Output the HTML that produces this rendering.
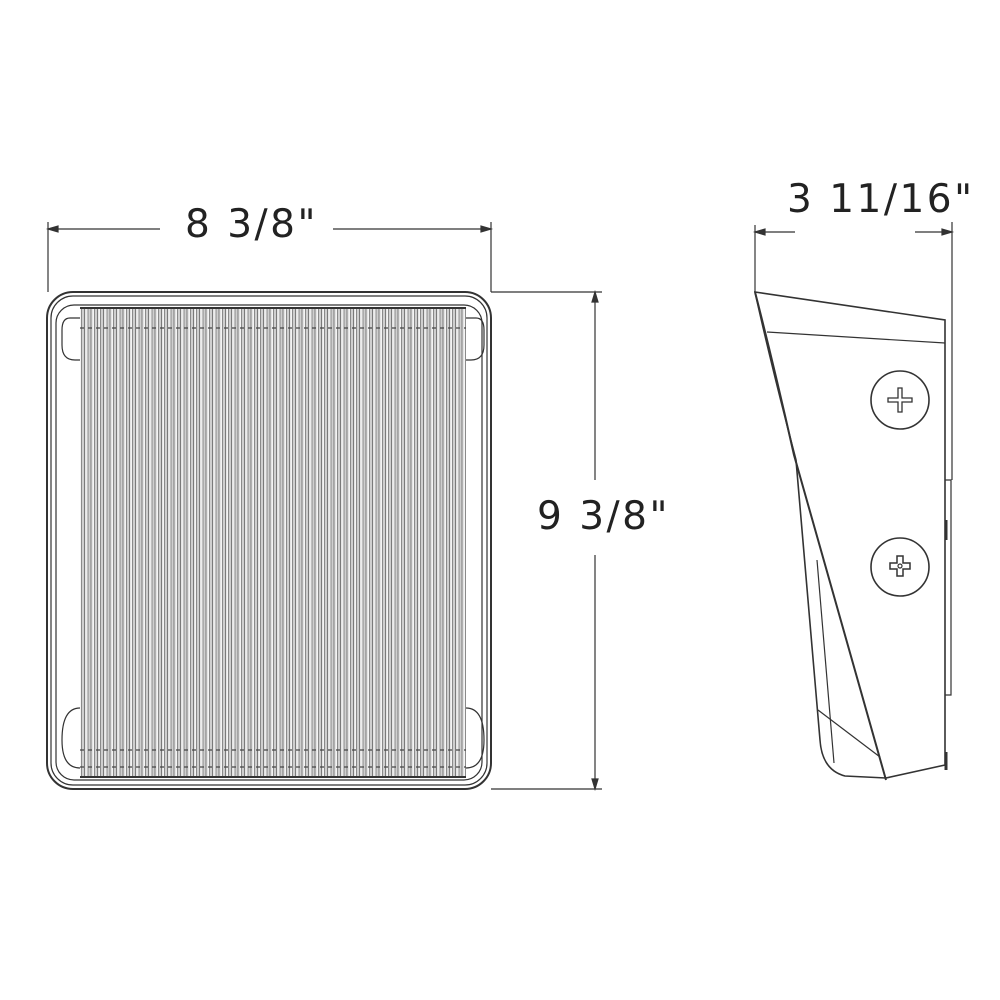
<!DOCTYPE html>
<html><head><style>
body{margin:0;background:#fff;width:1000px;height:1000px;overflow:hidden;position:relative}
.t{position:absolute;font-family:"DejaVu Sans","Liberation Sans",sans-serif;font-size:39px;letter-spacing:2.5px;color:#222;line-height:1}
.lens{position:absolute;left:80px;top:308px;width:386px;height:470px;
background:repeating-linear-gradient(90deg,#f4f4f4 0,#f4f4f4 1px,#8a8a8a 1px,#8a8a8a 2px,#cfcfcf 2px,#cfcfcf 4px,#7a7a7a 4px,#7a7a7a 5px,#e4e4e4 5px,#e4e4e4 6.4px)}
</style></head><body>
<div class="lens"></div>
<svg width="1000" height="1000" style="position:absolute;left:0;top:0" fill="none" stroke="#333" stroke-width="1.2">
<line x1="48" y1="222" x2="48" y2="292"/>
<line x1="491" y1="222" x2="491" y2="292"/>
<line x1="48" y1="229" x2="160" y2="229"/>
<line x1="333" y1="229" x2="491" y2="229"/>
<path d="M48 229 l10 -3 v6z M491 229 l-10 -3 v6z" fill="#333"/>
<line x1="491" y1="292" x2="602" y2="292"/>
<line x1="491" y1="789" x2="602" y2="789"/>
<line x1="595" y1="292" x2="595" y2="480"/>
<line x1="595" y1="555" x2="595" y2="789"/>
<path d="M595 292 l-3 10 h6z M595 789 l-3 -10 h6z" fill="#333"/>
<rect x="47" y="292" width="444" height="497" rx="26" stroke-width="2"/>
<rect x="51" y="296" width="436" height="489" rx="22"/>
<rect x="56" y="305" width="426" height="475" rx="18"/>
<path d="M80 318 L70 318 Q62 318 62 330 L62 345 Q62 360 75 360 L80 360" />
<path d="M466 318 L476 318 Q484 318 484 330 L484 345 Q484 360 471 360 L466 360" />
<path d="M80 708 Q62 708 62 740 Q62 768 80 768" />
<path d="M466 708 Q484 708 484 740 Q484 768 466 768" />
<line x1="80" y1="308" x2="466" y2="308" stroke-width="2"/>
<line x1="80" y1="777" x2="466" y2="777" stroke-width="2"/>
<line x1="80" y1="328" x2="466" y2="328" stroke="#444" stroke-dasharray="4 4"/>
<line x1="80" y1="750" x2="466" y2="750" stroke="#444" stroke-dasharray="4 4"/>
<line x1="80" y1="767" x2="466" y2="767" stroke="#444" stroke-dasharray="4 4"/>
<line x1="755" y1="225" x2="755" y2="292"/>
<line x1="952" y1="222" x2="952" y2="480"/>
<line x1="755" y1="232" x2="795" y2="232"/>
<line x1="915" y1="232" x2="952" y2="232"/>
<path d="M755 232 l10 -3 v6z M952 232 l-10 -3 v6z" fill="#333"/>
<path d="M945 480 h6 v215 h-6"/>
<line x1="946" y1="520" x2="946" y2="540" stroke-width="3"/>
<line x1="946" y1="752" x2="946" y2="770" stroke-width="3"/>
<path d="M755 292 L945 320 L945 765 L886 778 L845 776 Q822 770 820 740 L796 460 Q770 360 755 292 Z" stroke-width="1.6"/>
<path d="M755 292 Q775 370 794 455 L886 780" stroke-width="2"/>
<line x1="767" y1="332" x2="945" y2="343"/>
<line x1="818" y1="710" x2="880" y2="757"/>
<line x1="817" y1="560" x2="834" y2="763"/>
<circle cx="900" cy="400" r="29" stroke-width="1.6"/>
<circle cx="900" cy="567" r="29" stroke-width="1.6"/>
<path d="M898 388 h4 v10 h10 v4 h-10 v10 h-4 v-10 h-10 v-4 h10z" stroke-width="1.3"/>
<path d="M897 556 h6 v7 h7 v6 h-7 v7 h-6 v-7 h-7 v-6 h7z" stroke-width="1.5"/>
<circle cx="900" cy="566" r="2"/>
</svg>
<div class="t" style="left:185px;top:205px">8 3/8"</div>
<div class="t" style="left:537px;top:497px">9 3/8"</div>
<div class="t" style="left:787px;top:180px">3 11/16"</div>
</body></html>
